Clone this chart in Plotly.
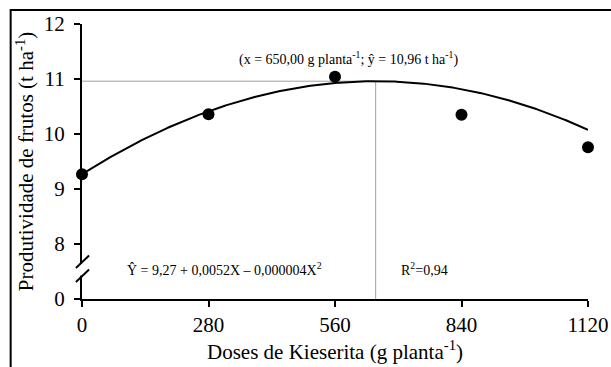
import numpy as np
import plotly.graph_objects as go

# Kieserite doses (g per plant) and observed fruit yield (t/ha)
doses = [0, 280, 560, 840, 1120]
yield_obs = [9.27, 10.36, 11.04, 10.35, 9.76]

# Quadratic regression coefficients and the point of maximum
b0, b1, b2 = 9.27, 0.0052, -0.000004
x_max, y_max = 650.0, 10.96

x_ticks = [0, 280, 560, 840, 1120]
# The y axis is broken: the bottom tick stands for 0, the rest run from 8 to 12
y_tickvals = [7, 8, 9, 10, 11, 12]
y_ticktext = ["0", "8", "9", "10", "11", "12"]

FONT = "'Liberation Serif', 'Times New Roman', 'DejaVu Serif', serif"

x_fit = np.linspace(0, 1120, 300)
y_fit = b0 + b1 * x_fit + b2 * x_fit ** 2

fig = go.Figure()

# reference lines to the maximum
fig.add_trace(go.Scatter(x=[0, x_max, x_max], y=[y_max, y_max, 7],
                         mode="lines", line=dict(color="#a0a0a0", width=1),
                         hoverinfo="skip", showlegend=False, cliponaxis=False))

fig.add_trace(go.Scatter(x=x_fit, y=y_fit, mode="lines",
                         line=dict(color="black", width=2),
                         showlegend=False, cliponaxis=False))

fig.add_trace(go.Scatter(x=doses, y=yield_obs, mode="markers",
                         marker=dict(color="black", size=12),
                         showlegend=False, cliponaxis=False))

fig.update_xaxes(range=[0, 1120], tickvals=x_ticks, automargin=False,
                 showline=True, linecolor="black", linewidth=2,
                 ticks="outside", ticklen=6, tickwidth=2, tickcolor="black",
                 showgrid=False, zeroline=False,
                 tickfont=dict(family=FONT, size=21, color="black"),
                 title=dict(text="Doses de Kieserita (g planta<sup>-1</sup>)",
                            font=dict(family=FONT, size=21, color="black"),
                            standoff=4))

fig.update_yaxes(range=[7, 12], tickvals=y_tickvals, ticktext=y_ticktext,
                 automargin=False, ticklabelstandoff=5,
                 showline=True, linecolor="black", linewidth=2,
                 ticks="outside", ticklen=6, tickwidth=2, tickcolor="black",
                 showgrid=False, zeroline=False,
                 tickfont=dict(family=FONT, size=21, color="black"),
                 title=dict(text="Produtividade de frutos (t ha<sup>-1</sup>)",
                            font=dict(family=FONT, size=21, color="black"),
                            standoff=4))

# axis break marks
shapes = [
    dict(type="rect", xref="paper", yref="paper", x0=-0.006, x1=0.006,
         y0=0.085, y1=0.128, fillcolor="white", line=dict(width=0), layer="above"),
    dict(type="line", xref="paper", yref="paper", x0=-0.012, y0=0.113,
         x1=0.014, y1=0.158, line=dict(color="black", width=2), layer="above"),
    dict(type="line", xref="paper", yref="paper", x0=-0.012, y0=0.062,
         x1=0.014, y1=0.107, line=dict(color="black", width=2), layer="above"),
    # frame around the figure
    dict(type="rect", xref="paper", yref="paper", x0=-0.141, x1=1.2,
         y0=-0.5, y1=1.051, line=dict(color="black", width=2), layer="above"),
]

annotations = [
    dict(x=591, y=11.38, xref="x", yref="y", showarrow=False,
         text="(x = 650,00 g planta<sup>-1</sup>; ŷ = 10,96 t ha<sup>-1</sup>)",
         font=dict(family=FONT, size=14, color="black")),
    dict(x=316, y=7.55, xref="x", yref="y", showarrow=False,
         text="Ŷ = 9,27 + 0,0052X – 0,000004X<sup>2</sup>",
         font=dict(family=FONT, size=14, color="black")),
    dict(x=759, y=7.55, xref="x", yref="y", showarrow=False,
         text="R<sup>2</sup>=0,94",
         font=dict(family=FONT, size=14, color="black")),
]

fig.update_layout(width=611, height=367,
                  margin=dict(l=82, r=23, t=24, b=68),
                  paper_bgcolor="white", plot_bgcolor="white",
                  font=dict(family=FONT),
                  shapes=shapes, annotations=annotations)

fig.write_html("out.html")
